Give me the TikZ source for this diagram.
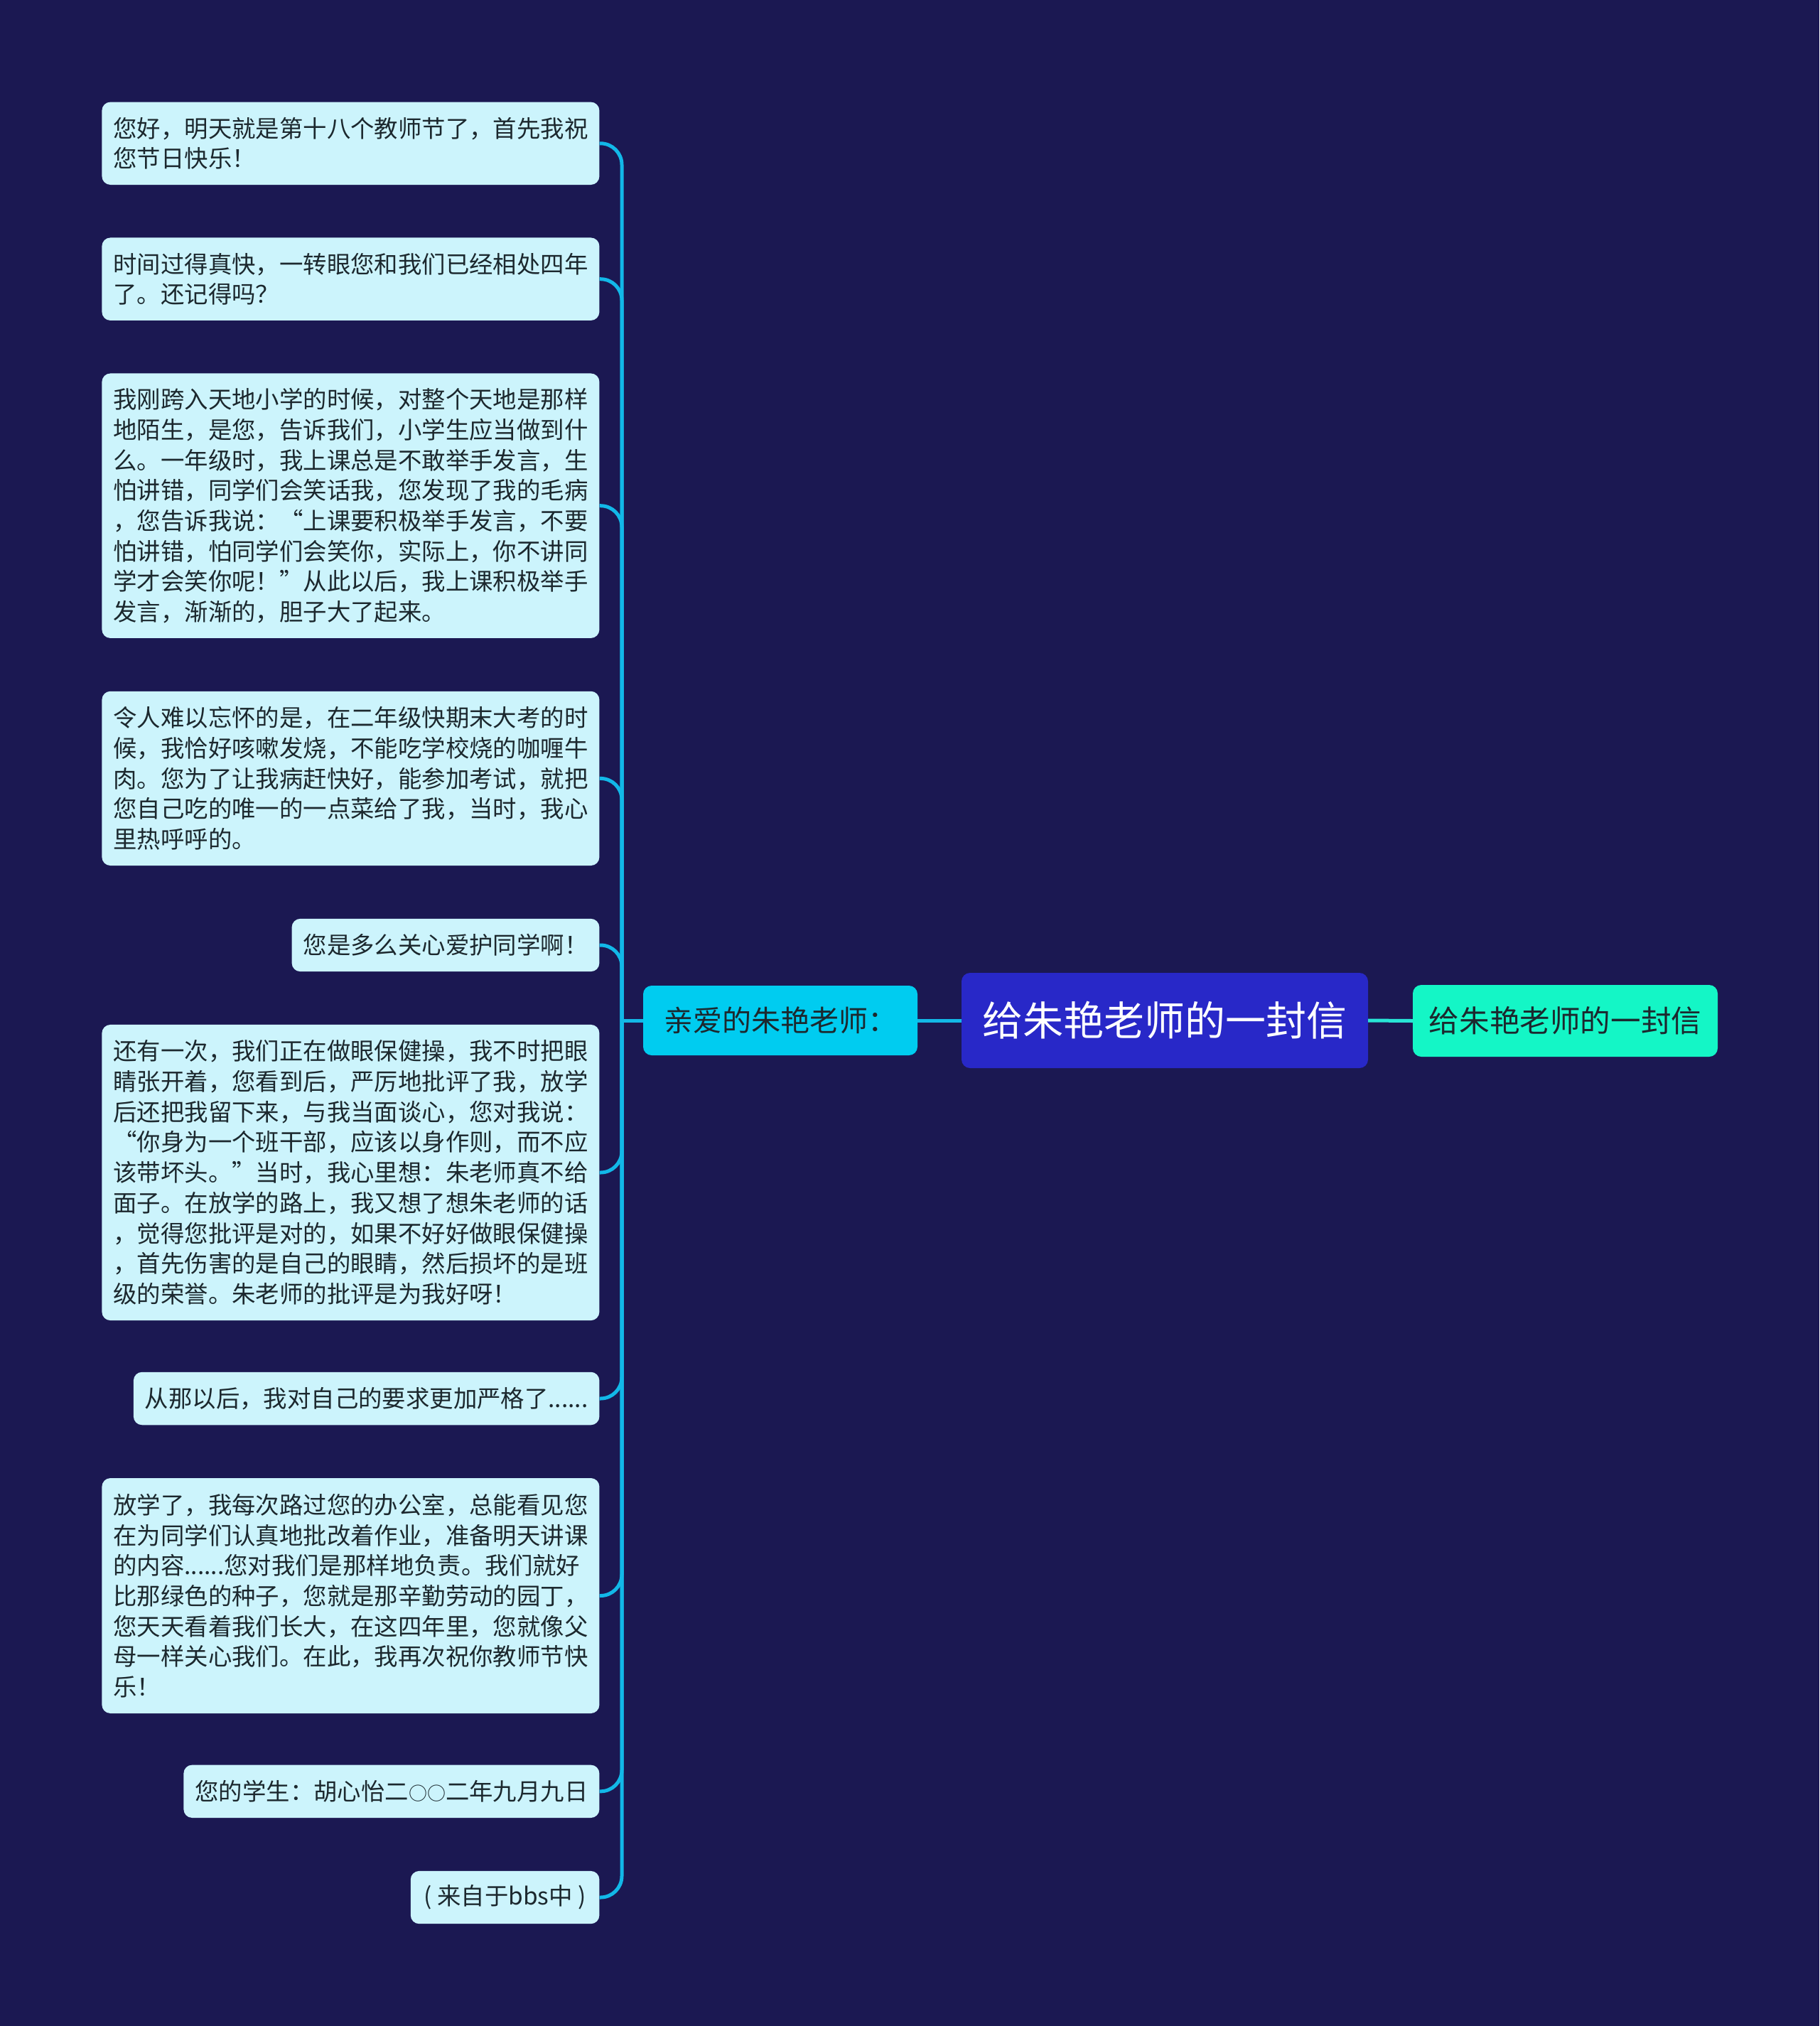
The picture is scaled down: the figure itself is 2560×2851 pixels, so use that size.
\documentclass[tikz,border=0pt]{standalone}
\usepackage{fontspec}
\setmainfont{Noto Sans CJK SC}
\definecolor{bgc}{RGB}{27,24,82}
\definecolor{leafc}{RGB}{204,244,252}
\definecolor{txtc}{RGB}{28,40,46}
\definecolor{branchc}{RGB}{0,204,240}
\definecolor{rootc}{RGB}{40,40,200}
\definecolor{rightc}{RGB}{20,246,198}
\definecolor{linec}{RGB}{18,184,232}
\definecolor{link2c}{RGB}{40,228,214}
\begin{document}
\begin{tikzpicture}[x=1pt,y=-1pt,
  leaf/.style={fill=leafc, rounded corners=12pt, inner xsep=16pt, inner ysep=0pt,
    align=left, anchor=east, text=txtc, font=\fontsize{33.4}{42.7}\selectfont},
  link/.style={draw=linec, line width=5pt},
  bigbox/.style={rounded corners=12pt, inner sep=0pt, align=center},
]
\fill[bgc] (0,0) rectangle (2560,2851);
\useasboundingbox (0,0) rectangle (2560,2851);

% root and main nodes
\node[bigbox, fill=rootc, text=white, minimum width=572, minimum height=134,
  font=\fontsize{57}{64}\selectfont] (root) at (1639,1436) {给朱艳老师的一封信};
\node[bigbox, fill=branchc, text=txtc, minimum width=386, minimum height=98,
  font=\fontsize{41}{48}\selectfont] (br) at (1098,1436) {亲爱的朱艳老师：};
\node[bigbox, fill=rightc, text=txtc, minimum width=429, minimum height=101,
  font=\fontsize{42.6}{50}\selectfont] (rt) at (2202.5,1436.5) {给朱艳老师的一封信};

% leaves
\node[leaf, minimum height=116.4] (l1) at (843.6,201.8) {您好，明天就是第十八个教师节了，首先我祝\\您节日快乐！};
\node[leaf, minimum height=116.5] (l2) at (843.6,392.7) {时间过得真快，一转眼您和我们已经相处四年\\了。还记得吗？};
\node[leaf, minimum height=372.5] (l3) at (843.6,711.7) {我刚跨入天地小学的时候，对整个天地是那样\\地陌生，是您，告诉我们，小学生应当做到什\\么。一年级时，我上课总是不敢举手发言，生\\怕讲错，同学们会笑话我，您发现了我的毛病\\，您告诉我说：“上课要积极举手发言，不要\\怕讲错，怕同学们会笑你，实际上，你不讲同\\学才会笑你呢！”从此以后，我上课积极举手\\发言，渐渐的，胆子大了起来。};
\node[leaf, minimum height=245.3] (l4) at (843.6,1095.4) {令人难以忘怀的是，在二年级快期末大考的时\\候，我恰好咳嗽发烧，不能吃学校烧的咖喱牛\\肉。您为了让我病赶快好，能参加考试，就把\\您自己吃的唯一的一点菜给了我，当时，我心\\里热呼呼的。};
\node[leaf, minimum height=74.3] (l5) at (843.6,1330) {您是多么关心爱护同学啊！};
\node[leaf, minimum height=416.2] (l6) at (843.6,1650) {还有一次，我们正在做眼保健操，我不时把眼\\睛张开着，您看到后，严厉地批评了我，放学\\后还把我留下来，与我当面谈心，您对我说：\\“你身为一个班干部，应该以身作则，而不应\\该带坏头。”当时，我心里想：朱老师真不给\\面子。在放学的路上，我又想了想朱老师的话\\，觉得您批评是对的，如果不好好做眼保健操\\，首先伤害的是自己的眼睛，然后损坏的是班\\级的荣誉。朱老师的批评是为我好呀！};
\node[leaf, minimum height=74.5] (l7) at (843.6,1968) {从那以后，我对自己的要求更加严格了......};
\node[leaf, minimum height=331, minimum width=700] (l8) at (843.6,2245.5) {放学了，我每次路过您的办公室，总能看见您\\在为同学们认真地批改着作业，准备明天讲课\\的内容......您对我们是那样地负责。我们就好\\比那绿色的种子，您就是那辛勤劳动的园丁，\\您天天看着我们长大，在这四年里，您就像父\\母一样关心我们。在此，我再次祝你教师节快\\乐！};
\node[leaf, minimum height=74.4] (l9) at (843.6,2520.8) {您的学生：胡心怡二{\fontsize{26}{26}\selectfont ○○}二年九月九日};
\node[leaf, minimum height=74.3, minimum width=265.6] (l10) at (843.6,2670) {( 来自于bbs中 )};

% connectors
\coordinate (J) at (875,1436);
\draw[link] (br.west) -- (J);
\foreach \n in {l1,l2,l3,l4,l5,l6,l7,l8,l9,l10}
  \draw[link, rounded corners=30pt] (J) -- (J |- \n.east) -- (\n.east);
\draw[link] (br.east) -- (root.west);
\draw[link, draw=link2c] (root.east) -- (rt.west);
\end{tikzpicture}
\end{document}
